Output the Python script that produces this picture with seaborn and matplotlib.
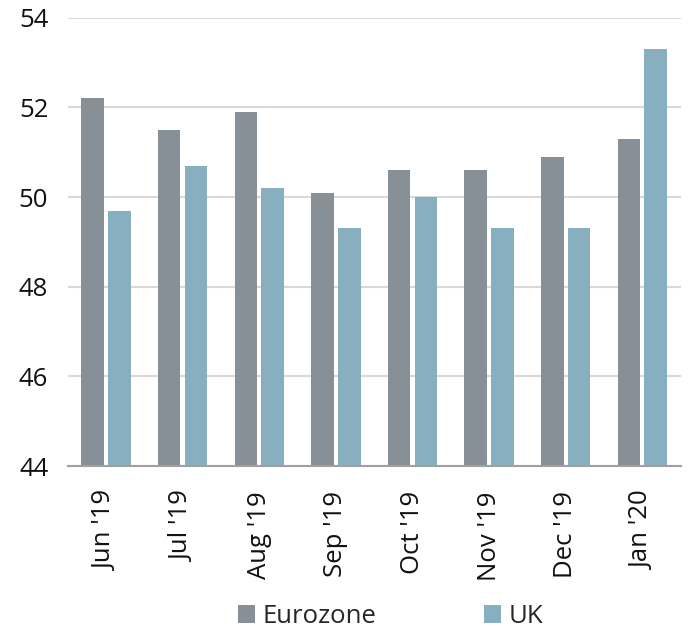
import matplotlib
matplotlib.use("Agg")
import matplotlib.pyplot as plt
import pandas as pd
import seaborn as sns

months = ["Jun '19", "Jul '19", "Aug '19", "Sep '19", "Oct '19", "Nov '19", "Dec '19", "Jan '20"]
eurozone = [52.2, 51.5, 51.9, 50.1, 50.6, 50.6, 50.9, 51.3]
uk = [49.7, 50.7, 50.2, 49.3, 50.0, 49.3, 49.3, 53.3]
yticks = [44, 46, 48, 50, 52, 54]

df = pd.DataFrame({
    "month": months * 2,
    "value": eurozone + uk,
    "series": ["Eurozone"] * len(months) + ["UK"] * len(months),
})

sns.set_style("white")
plt.rcParams["font.family"] = ["Open Sans", "DejaVu Sans"]

fig, ax = plt.subplots(figsize=(6.91, 6.30), dpi=100)
fig.subplots_adjust(left=0.098, right=0.985, top=0.972, bottom=0.26)

sns.barplot(data=df, x="month", y="value", hue="series",
            palette=["#878f97", "#88afc0"], saturation=1, width=0.7, gap=0.16,
            linewidth=0, ax=ax, zorder=3)

ax.set_ylim(44, 54)
ax.set_yticks(yticks)
ax.yaxis.grid(True, color="#d9d9d9", linewidth=1.5, zorder=0)
ax.set_xlim(-0.5, 7.5)
for s in ["top", "right", "left"]:
    ax.spines[s].set_visible(False)
ax.spines["bottom"].set_color("#a0a0a0")
ax.spines["bottom"].set_linewidth(1.5)
ax.spines["bottom"].set_zorder(4)
ax.tick_params(axis="both", length=0, labelsize=18.5, colors="#111111")
ax.tick_params(axis="x", pad=18)
ax.tick_params(axis="y", pad=14)
plt.setp(ax.get_xticklabels(), rotation=90)
ax.set_xlabel("")
ax.set_ylabel("")

ax.legend(loc="center", bbox_to_anchor=(0.527, -0.335), ncol=2, frameon=False,
          fontsize=18.5, handlelength=0.65, handleheight=0.65, handletextpad=0.3,
          columnspacing=4.2)

fig.savefig("out.png", dpi=100)
